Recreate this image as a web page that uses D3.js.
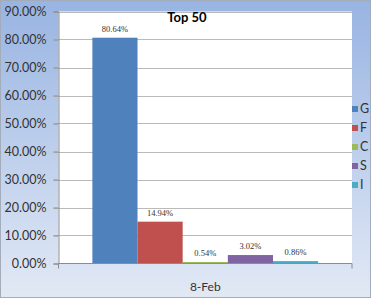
<!DOCTYPE html>
<html>
<head>
<meta charset="utf-8">
<script src="https://cdn.jsdelivr.net/npm/d3@7"></script>
<style>
  body { margin: 0; background: #fff; }
  svg text { font-family: Lato, "Open Sans", sans-serif; }
</style>
</head>
<body>
<div id="chart-area"></div>
<script>
// Data
var categories = ["8-Feb"];
var seriesNames = ["G", "F", "C", "S", "I"];
var seriesValues = [0.8064, 0.1494, 0.0054, 0.0302, 0.0086];
var seriesColors = ["#4f81bd", "#c0504d", "#9bbb59", "#8064a2", "#4bacc6"];
var yTicks = [0, 0.1, 0.2, 0.3, 0.4, 0.5, 0.6, 0.7, 0.8, 0.9];

var W = 374, H = 300;
var plot = { left: 58.5, right: 352, top: 11.5, bottom: 263.5 };

var svg = d3.select("#chart-area").append("svg")
    .attr("width", W)
    .attr("height", H);

// Background gradient
var grad = svg.append("defs").append("linearGradient")
    .attr("id", "bg")
    .attr("x1", 0).attr("y1", 0).attr("x2", 0).attr("y2", 1);
grad.append("stop").attr("offset", "0%").attr("stop-color", "#98b4e2");
grad.append("stop").attr("offset", "100%").attr("stop-color", "#e2e9f5");

svg.append("rect")
    .attr("x", 0.5).attr("y", 0.5)
    .attr("width", W - 4).attr("height", H - 3)
    .attr("fill", "url(#bg)")
    .attr("stroke", "#a2acbb");

// Plot area
svg.append("rect")
    .attr("x", plot.left).attr("y", plot.top)
    .attr("width", plot.right - plot.left)
    .attr("height", plot.bottom - plot.top)
    .attr("fill", "#fff");

// Scales
var y = d3.scaleLinear().domain([0, 0.9]).range([plot.bottom, plot.top]);
var x0 = d3.scaleBand().domain(categories)
    .range([plot.left, plot.right])
    .paddingInner(0).paddingOuter(0.15);
var x1 = d3.scaleBand().domain(seriesNames)
    .range([0, x0.bandwidth()]).padding(0);

// Gridlines
svg.append("g").selectAll("line")
    .data(yTicks.slice(1))
    .enter().append("line")
    .attr("x1", plot.left - 5).attr("x2", plot.right)
    .attr("y1", function(d) { return Math.round(y(d)) + 0.5; })
    .attr("y2", function(d) { return Math.round(y(d)) + 0.5; })
    .attr("stroke", "#bababa");

// Y axis
var yAxis = svg.append("g")
    .attr("transform", "translate(" + plot.left + ",0)")
    .call(d3.axisLeft(y).tickValues(yTicks).tickFormat(d3.format(".2%"))
        .tickSize(5).tickPadding(7));
yAxis.select(".domain").attr("stroke", "#8c8c8c");
yAxis.selectAll(".tick line").attr("stroke", "#8c8c8c");
yAxis.selectAll(".tick text")
    .attr("fill", "#333")
    .style("font-size", "12.5px");

// Bars
var group = svg.append("g").selectAll("g")
    .data(categories)
    .enter().append("g")
    .attr("transform", function(d) { return "translate(" + x0(d) + ",0)"; });

group.selectAll("rect")
    .data(seriesNames)
    .enter().append("rect")
    .attr("x", function(d) { return x1(d); })
    .attr("width", x1.bandwidth())
    .attr("y", function(d, i) { return y(seriesValues[i]); })
    .attr("height", function(d, i) { return plot.bottom - y(seriesValues[i]); })
    .attr("fill", function(d, i) { return seriesColors[i]; });

group.selectAll("text.lbl")
    .data(seriesNames)
    .enter().append("text")
    .attr("class", "lbl")
    .attr("x", function(d) { return x1(d) + x1.bandwidth() / 2; })
    .attr("y", function(d, i) { return y(seriesValues[i]) - 6; })
    .attr("text-anchor", "middle")
    .attr("fill", "#333")
    .style("font-family", "'Liberation Serif', serif")
    .style("font-size", "8.5px")
    .text(function(d, i) { return d3.format(".2%")(seriesValues[i]); });

// X axis
var xAxis = svg.append("g")
    .attr("transform", "translate(0," + plot.bottom + ")")
    .call(d3.axisBottom(x0).tickSize(0).tickPadding(19));
xAxis.select(".domain").remove();
xAxis.append("line")
    .attr("x1", plot.left).attr("x2", plot.right)
    .attr("stroke", "#8c8c8c");
xAxis.selectAll(".edge")
    .data([plot.left, plot.right])
    .enter().append("line")
    .attr("class", "edge")
    .attr("x1", function(d) { return d; }).attr("x2", function(d) { return d; })
    .attr("y1", 0).attr("y2", 5)
    .attr("stroke", "#8c8c8c");
xAxis.selectAll(".tick text")
    .attr("fill", "#333")
    .style("font-size", "12px");

// Title
svg.append("text")
    .attr("x", 187).attr("y", 21.5)
    .attr("text-anchor", "middle")
    .attr("fill", "#000")
    .style("font-weight", "bold")
    .style("font-size", "13px")
    .text("Top 50");

// Legend
var legend = svg.append("g").selectAll("g")
    .data(seriesNames)
    .enter().append("g")
    .attr("transform", function(d, i) { return "translate(352," + (106 + i * 19) + ")"; });
legend.append("rect")
    .attr("width", 6).attr("height", 6)
    .attr("fill", function(d, i) { return seriesColors[i]; });
legend.append("text")
    .attr("x", 8).attr("y", 7)
    .attr("fill", "#333")
    .style("font-size", "12.5px")
    .text(function(d) { return d; });
</script>
</body>
</html>
